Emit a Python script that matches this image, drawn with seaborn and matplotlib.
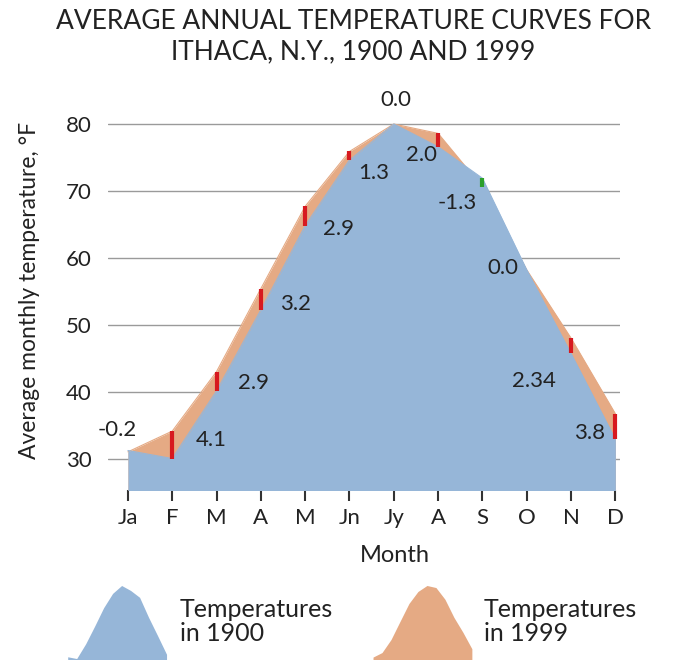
import numpy as np
import pandas as pd
import matplotlib
matplotlib.use('Agg')
import matplotlib.pyplot as plt
import seaborn as sns

# values (deg F)
months = ['Ja', 'F', 'M', 'A', 'M', 'Jn', 'Jy', 'A', 'S', 'O', 'N', 'D']
temp_1900 = [31.2, 30.0, 40.1, 52.2, 64.8, 74.6, 80.0, 76.6, 71.9, 58.2, 45.7, 32.9]
temp_1999 = [31.0, 34.1, 43.0, 55.4, 67.7, 75.9, 80.0, 78.6, 70.6, 58.2, 48.0, 36.7]
diff_labels = ['-0.2', '4.1', '2.9', '3.2', '2.9', '1.3', '0.0', '2.0', '-1.3', '0.0', '2.34', '3.8']
# label offsets from the 1900 point, in pixels
label_offsets = [(-11, 21), (39, 19), (37, 8), (35, 6), (33, -3), (24, -13),
                 (2, 24), (-17, -8), (-25, -25), (-24, 2), (-37, -28), (-26, 6)]

df = pd.DataFrame({'m': np.arange(len(months)), 'y1900': temp_1900, 'y1999': temp_1999})
df['diff'] = df['y1999'] - df['y1900']

blue = '#96b6d8'
orange = '#e5aa84'
txt = '#222222'

sns.set_theme(style='white')
plt.rcParams['font.family'] = ['Lato', 'DejaVu Sans']

fig = plt.figure(figsize=(6.77, 6.6), dpi=100)
ax = fig.add_axes([0.1595, 0.2576, 0.756, 0.5697])

sns.lineplot(x='m', y='y1999', data=df, color=orange, linewidth=0.8, ax=ax, zorder=2)
ax.fill_between(df['m'], df['y1999'], 0, color=orange, linewidth=0, zorder=2)
sns.lineplot(x='m', y='y1900', data=df, color=blue, linewidth=0.8, ax=ax, zorder=3)
ax.fill_between(df['m'], df['y1900'], 0, color=blue, linewidth=0, zorder=3)

# change markers
big = df[df['diff'].abs() >= 1]
ax.vlines(big['m'], big['y1900'], big['y1999'],
          colors=['#d7191f' if d > 0 else '#2ca02c' for d in big['diff']],
          linewidth=3, zorder=4)

for i, row in df.iterrows():
    ax.annotate(diff_labels[i], (row['m'], row['y1900']), xytext=label_offsets[i],
                textcoords='offset pixels', ha='center', va='center',
                fontsize=16, color=txt, zorder=5, annotation_clip=False)

ax.set_xlim(-0.45, 11.1)
ax.set_ylim(25.3, 81.5)
ax.set_yticks([30, 40, 50, 60, 70, 80])
ax.set_xticks(df['m'])
ax.set_xticklabels(months)
ax.yaxis.grid(True, color='#9a9a9a', linewidth=1)
ax.set_axisbelow(True)
for s in ax.spines.values():
    s.set_visible(False)
ax.tick_params(axis='y', length=0, pad=12, labelsize=16, labelcolor=txt)
ax.tick_params(axis='x', bottom=True, length=8, width=1.5, color='#333333', pad=5,
               labelsize=16, labelcolor=txt)
ax.set_xlabel('')
ax.set_ylabel('')

fig.text(0.522, 0.944, 'AVERAGE ANNUAL TEMPERATURE CURVES FOR\nITHACA, N.Y., 1900 AND 1999',
         ha='center', va='center', fontsize=19, color=txt, linespacing=1.25)
fig.text(0.044, 0.56, 'Average monthly temperature, \u00b0F', rotation=90,
         ha='center', va='center', fontsize=16.5, color=txt)
fig.text(0.583, 0.159, 'Month', ha='center', va='center', fontsize=17, color=txt)

# legend icons drawn from the same curves
for left, col, key, tx in [(0.100, blue, 'y1900', 0.266), (0.551, orange, 'y1999', 0.715)]:
    iax = fig.add_axes([left, 0.0, 0.146, 0.114])
    iax.fill_between(df['m'], df[key], 0, color=col, linewidth=0)
    iax.set_xlim(0, 11)
    iax.set_ylim(29, 80.5)
    iax.axis('off')
    fig.text(tx, 0.058, 'Temperatures\nin ' + key[1:], ha='left', va='center',
             fontsize=18, color=txt, linespacing=1.05)

fig.savefig('out.png', dpi=100)
